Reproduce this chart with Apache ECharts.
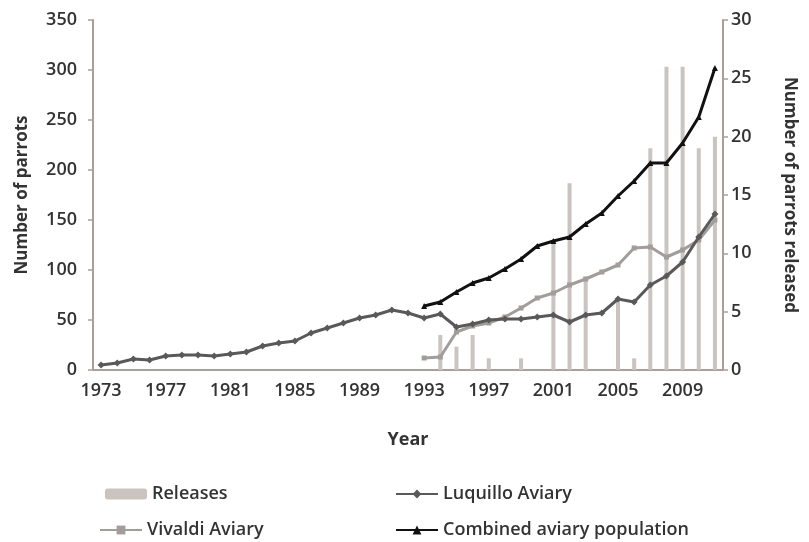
<!DOCTYPE html>
<html>
<head>
<meta charset="utf-8">
<script src="https://cdn.jsdelivr.net/npm/echarts@6/dist/echarts.min.js"></script>
<style>html,body{margin:0;padding:0;background:#fff;}#c{width:809px;height:542px;}</style>
</head>
<body>
<div id="c"></div>
<script>
const years = [];
for (let y = 1973; y <= 2011; y++) years.push(String(y));

const luquillo = [5,7,11,10,14,15,15,14,16,18,24,27,29,37,42,47,52,55,60,57,
                  52,56,43,46,50,51,51,53,55,48,55,57,71,68,85,94,108,133,156];
const vivaldi = [null,null,null,null,null,null,null,null,null,null,null,null,null,null,null,null,null,null,null,null,
                 12,13,38,44,47,53,62,72,77,85,91,98,105,122,123,113,120,130,150];
const combined = [null,null,null,null,null,null,null,null,null,null,null,null,null,null,null,null,null,null,null,null,
                  64,68,78,87,92,101,111,124,129,133,146,157,174,189,207,207,227,253,302];
const releases = [0,0,0,0,0,0,0,0,0,0,0,0,0,0,0,0,0,0,0,0,
                  0,3,2,3,1,0,1,0,11,16,8,0,6,1,19,26,26,19,20];
const leftTicks = [0,50,100,150,200,250,300,350];
const rightTicks = [0,5,10,15,20,25,30];

const FONT = '"Open Sans", "Noto Sans", sans-serif';
const TXT = '#333333';
const AXC = '#a8a09c';

const chart = echarts.init(document.getElementById('c'));
const legendText = {fontFamily: FONT, fontSize: 18, color: TXT, fontWeight: 600};
function leg(name, left, top) {
  return {data: [name], left: left, top: top, itemWidth: 42, itemHeight: 11, itemGap: 4,
          textStyle: legendText, selectedMode: false};
}
chart.setOption({
  animation: false,
  backgroundColor: '#fff',
  grid: {left: 93, right: 86, top: 20, bottom: 172},
  legend: [
    leg('Releases', 100, 480),
    leg('Luquillo Aviary', 390, 480),
    leg('Vivaldi Aviary', 94, 516),
    leg('Combined aviary population', 390, 516)
  ],
  xAxis: {
    type: 'category', data: years, boundaryGap: true,
    axisLine: {lineStyle: {color: AXC, width: 2}},
    axisTick: {interval: 3, length: 5, lineStyle: {color: AXC, width: 1.5}},
    axisLabel: {interval: 3, fontFamily: FONT, fontSize: 18, fontWeight: 600, color: TXT, margin: 12},
    name: 'Year', nameLocation: 'middle', nameGap: 61,
    nameTextStyle: {fontFamily: FONT, fontSize: 18, fontWeight: 'bold', color: TXT}
  },
  yAxis: [{
    type: 'value', min: 0, max: 350, interval: 50,
    splitLine: {show: false},
    axisLine: {show: true, lineStyle: {color: AXC, width: 2}},
    axisTick: {show: true, length: 5, lineStyle: {color: AXC, width: 1.5}},
    axisLabel: {fontFamily: FONT, fontSize: 18, fontWeight: 600, color: TXT, margin: 16},
    name: 'Number of parrots', nameLocation: 'middle', nameGap: 62, nameRotate: 90,
    nameTextStyle: {fontFamily: FONT, fontSize: 17, fontWeight: 'bold', color: TXT}
  }, {
    type: 'value', min: 0, max: 30, interval: 5, position: 'right',
    splitLine: {show: false},
    axisLine: {show: true, lineStyle: {color: AXC, width: 2}},
    axisTick: {show: true, length: 5, lineStyle: {color: AXC, width: 1.5}},
    axisLabel: {fontFamily: FONT, fontSize: 18, fontWeight: 600, color: TXT, margin: 8},
    name: 'Number of parrots released', nameLocation: 'middle', nameGap: 58, nameRotate: -90,
    nameTextStyle: {fontFamily: FONT, fontSize: 17, fontWeight: 'bold', color: TXT}
  }],
  series: [{
    name: 'Releases', type: 'bar', yAxisIndex: 1, data: releases, barWidth: 4,
    itemStyle: {color: '#cbc3bf'}, z: 1
  }, {
    name: 'Luquillo Aviary', type: 'line', data: luquillo,
    symbol: 'diamond', symbolSize: 7, showSymbol: true,
    lineStyle: {color: '#595959', width: 3}, itemStyle: {color: '#595959'}, z: 3
  }, {
    name: 'Vivaldi Aviary', type: 'line', data: vivaldi,
    symbol: 'rect', symbolSize: 5, showSymbol: true,
    lineStyle: {color: '#a29d9b', width: 3}, itemStyle: {color: '#a29d9b'}, z: 2
  }, {
    name: 'Combined aviary population', type: 'line', data: combined,
    symbol: 'triangle', symbolSize: 6, showSymbol: true,
    lineStyle: {color: '#111111', width: 3}, itemStyle: {color: '#111111'}, z: 4
  }]
});
</script>
</body>
</html>
